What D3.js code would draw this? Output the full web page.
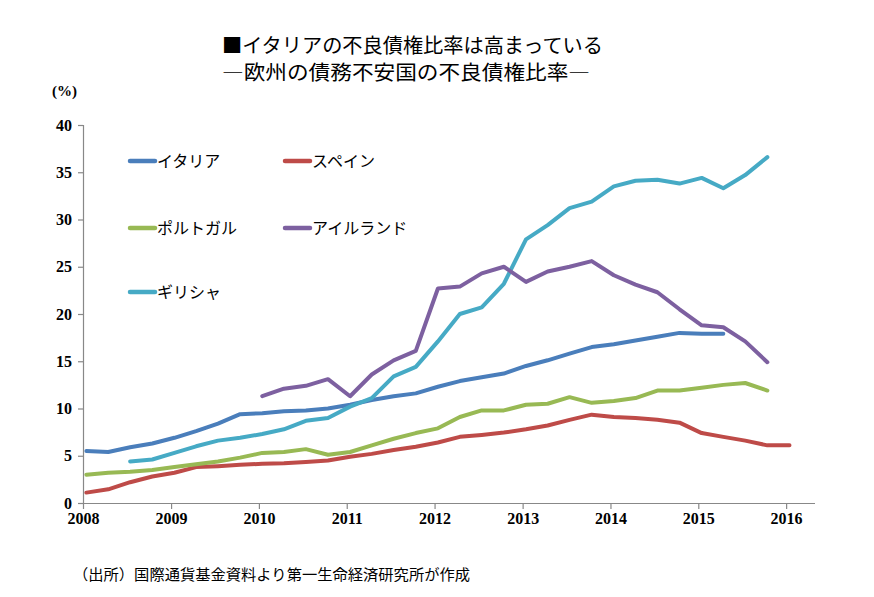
<!DOCTYPE html>
<html>
<head>
<meta charset="utf-8">
<script src="https://cdn.jsdelivr.net/npm/d3@7"></script>
<style>
  body { margin: 0; background: #fff; }
  svg { display: block; }
</style>
</head>
<body>
<div id="chart"></div>
<script>
const WIDTH = 874;
const HEIGHT = 597;

// quarters, 2008Q1 .. 2016Q1
const quarters = d3.range(33).map(i => (2008 + Math.floor(i / 4)) + "Q" + (i % 4 + 1));

const italy = [5.5, 5.4, 5.9, 6.3, 6.9, 7.6, 8.4, 9.4, 9.5, 9.7, 9.8, 10.0, 10.4, 10.9, 11.3, 11.6,
  12.3, 12.9, 13.3, 13.7, 14.5, 15.1, 15.8, 16.5, 16.8, 17.2, 17.6, 18.0, 17.9, 17.9, null, null, null];
const spain = [1.1, 1.45, 2.2, 2.8, 3.2, 3.8, 3.9, 4.05, 4.15, 4.2, 4.35, 4.5, 4.9, 5.2, 5.6, 5.95,
  6.4, 7.0, 7.2, 7.45, 7.8, 8.2, 8.8, 9.35, 9.1, 9.0, 8.8, 8.5, 7.4, 7.0, 6.6, 6.1, 6.1];
const portugal = [3.0, 3.2, 3.3, 3.5, 3.8, 4.1, 4.4, 4.8, 5.3, 5.4, 5.7, 5.1, 5.4, 6.1, 6.8, 7.4,
  7.9, 9.1, 9.8, 9.8, 10.4, 10.5, 11.2, 10.6, 10.8, 11.1, 11.9, 11.9, 12.2, 12.5, 12.7, 11.9, null];
const ireland = [null, null, null, null, null, null, null, null, 11.3, 12.1, 12.4, 13.1, 11.3, 13.6, 15.1, 16.1,
  22.7, 22.9, 24.3, 25.0, 23.4, 24.5, 25.0, 25.6, 24.1, 23.1, 22.3, 20.5, 18.8, 18.6, 17.1, 14.9, null];
const greece = [null, null, 4.4, 4.6, 5.3, 6.0, 6.6, 6.9, 7.3, 7.8, 8.7, 9.0, 10.2, 11.1, 13.4, 14.4,
  17.1, 20.0, 20.7, 23.2, 27.9, 29.4, 31.2, 31.9, 33.5, 34.1, 34.2, 33.8, 34.4, 33.3, 34.7, 36.6, null];

const seriesNames = ["イタリア", "スペイン", "ポルトガル", "アイルランド", "ギリシャ"];
const seriesColors = ["#4a7ebb", "#be4b48", "#98b954", "#7d60a0", "#46aac5"];
const seriesValues = [italy, spain, portugal, ireland, greece];
// draw order (back to front)
const drawOrder = [1, 2, 0, 4, 3];

const yTicks = [0, 5, 10, 15, 20, 25, 30, 35, 40];
const titleLines = ["■イタリアの不良債権比率は高まっている", "―欧州の債務不安国の不良債権比率―"];
const sourceNote = "（出所）国際通貨基金資料より第一生命経済研究所が作成";

const toDate = q => new Date(+q.slice(0, 4), (+q.slice(5) - 1) * 3, 15);

const svg = d3.select("#chart").append("svg")
  .attr("width", WIDTH)
  .attr("height", HEIGHT);

const x = d3.scaleTime()
  .domain([new Date(2008, 0, 1), new Date(2016, 3, 30)])
  .range([83, 815]);
const y = d3.scaleLinear().domain([0, 40]).range([503, 125]);

// titles
const titleWidths = [381, 368];
svg.append("g").selectAll("text")
  .data(titleLines)
  .enter().append("text")
  .attr("x", 222)
  .attr("y", (d, i) => 53 + i * 27)
  .attr("font-family", "'Noto Sans CJK JP', sans-serif")
  .attr("font-size", 20)
  .attr("textLength", (d, i) => titleWidths[i])
  .attr("lengthAdjust", "spacingAndGlyphs")
  .attr("fill", "#000")
  .text(d => d);

svg.append("text")
  .attr("x", 52).attr("y", 96)
  .attr("font-family", "'Liberation Serif', serif")
  .attr("font-weight", "bold")
  .attr("font-size", 15)
  .text("(%)");

// axes
const yAxis = svg.append("g")
  .attr("transform", "translate(83,0)")
  .call(d3.axisLeft(y).tickValues(yTicks).tickSize(5).tickPadding(6));
const xAxis = svg.append("g")
  .attr("transform", "translate(0,503)")
  .call(d3.axisBottom(x).ticks(d3.timeYear.every(1)).tickFormat(d3.timeFormat("%Y")).tickSize(6).tickPadding(4));

[yAxis, xAxis].forEach(a => {
  a.selectAll("path, line").attr("stroke", "#888").attr("stroke-width", 1.2);
  a.selectAll("text")
    .attr("font-family", "'Liberation Serif', serif")
    .attr("font-weight", "bold")
    .attr("font-size", 16)
    .attr("fill", "#000");
});
xAxis.select(".domain").attr("d", "M83.5,0.5H815");

// lines
const line = d3.line()
  .defined(d => d.v != null)
  .x(d => x(toDate(d.q)))
  .y(d => y(d.v));

svg.append("g").selectAll("path")
  .data(drawOrder)
  .enter().append("path")
  .attr("fill", "none")
  .attr("stroke", i => seriesColors[i])
  .attr("stroke-width", 4)
  .attr("stroke-linejoin", "round")
  .attr("stroke-linecap", "round")
  .attr("d", i => line(quarters.map((q, k) => ({ q: q, v: seriesValues[i][k] }))));

// legend
const legendPos = [[128, 161], [283, 161], [128, 228], [283, 228], [128, 292]];
const legend = svg.append("g").selectAll("g")
  .data(seriesNames)
  .enter().append("g")
  .attr("transform", (d, i) => `translate(${legendPos[i][0]},${legendPos[i][1]})`);
legend.append("line")
  .attr("x1", 2).attr("x2", 27)
  .attr("stroke", (d, i) => seriesColors[i])
  .attr("stroke-width", 4.5)
  .attr("stroke-linecap", "round");
legend.append("text")
  .attr("x", 29).attr("y", 6)
  .attr("font-family", "'Noto Sans CJK JP', sans-serif")
  .attr("font-size", 16)
  .text(d => d);

// source
svg.append("text")
  .attr("x", 73).attr("y", 580)
  .attr("font-family", "'Noto Sans CJK JP', sans-serif")
  .attr("font-size", 15)
  .attr("textLength", 397)
  .attr("lengthAdjust", "spacingAndGlyphs")
  .text(sourceNote);
</script>
</body>
</html>
